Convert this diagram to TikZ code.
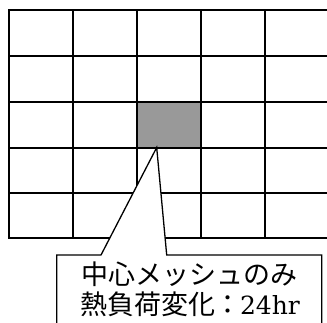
\documentclass[tikz,border=0pt]{standalone}
\usepackage{fontspec}
\newfontfamily\cjk{Noto Sans CJK JP}
\newfontfamily\latinserif{DejaVu Serif}
\begin{document}
\begin{tikzpicture}[x=1pt,y=-1pt,
  gridline/.style={line width=2.2pt,line cap=rect},
  balloon/.style={line width=1.3pt,fill=white,line join=miter},
  celltone/.style={fill=black!40},
  labeltext/.style={align=center,inner sep=0pt,font=\fontsize{27}{30}\selectfont}]
\useasboundingbox (0,0) rectangle (327,322);
\clip (0,0) rectangle (327,322);
% highlighted center cell
\fill[celltone] (137,102.3) rectangle (201,147.7);
% grid
\foreach \yy in {10,56,102.3,147.7,192.7,238.3}
  \draw[gridline] (9,\yy) -- (335,\yy);
\foreach \xx in {9,72.7,136.7,201,265}
  \draw[gridline] (\xx,10) -- (\xx,238.3);
% callout
\coordinate (tip) at (156.7,147.5);
\coordinate (bl) at (56.7,340);
\coordinate (tl) at (56.7,255);
\coordinate (pl) at (101,255);
\coordinate (pr) at (166.7,255);
\coordinate (tr) at (321.7,255);
\coordinate (br) at (321.7,340);
\draw[balloon] (bl) -- (tl) -- (pl) -- (tip) -- (pr) -- (tr) -- (br);
\node[labeltext] (label) at (190,289)
  {{\cjk 中心メッシュのみ}\\{\cjk 熱負荷変化\hspace{-1pt}：\hspace{-1pt}}{\latinserif\fontsize{25}{30}\selectfont 24hr}};
\end{tikzpicture}
\end{document}
